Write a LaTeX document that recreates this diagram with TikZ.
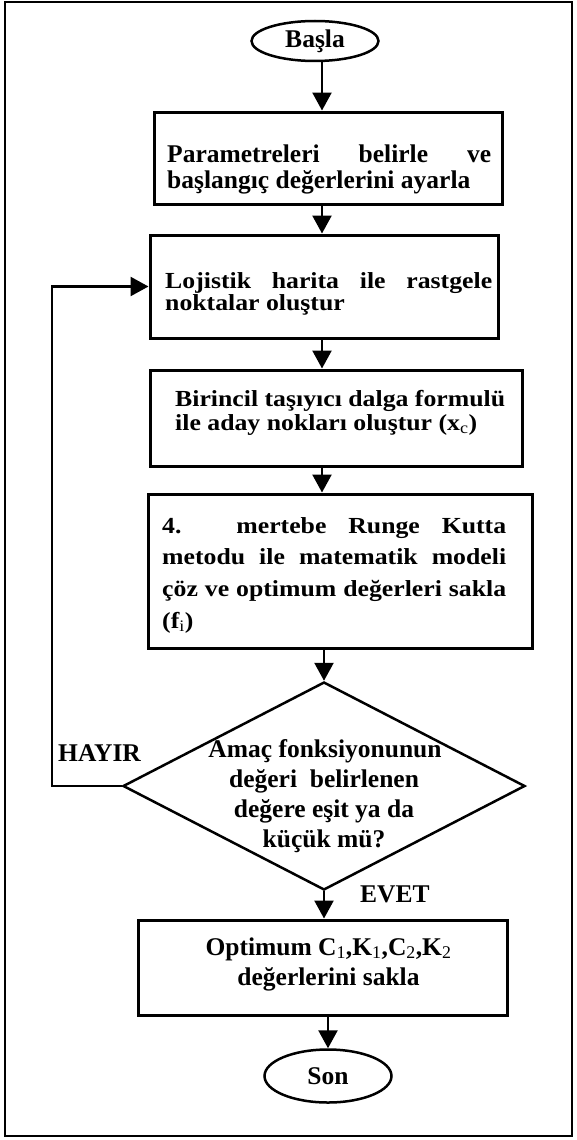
\documentclass[tikz,border=0pt]{standalone}
\usepackage{fontspec}
\setmainfont{Liberation Serif}
\newfontfamily\camfont{Liberation Serif}[FakeStretch=1.12]
\usetikzlibrary{arrows.meta,shapes.geometric}
\newcommand{\tnrtext}{\bfseries\fontsize{25.5}{27}\selectfont}
\newcommand{\camtext}{\camfont\bfseries\fontsize{23}{24}\selectfont}
\newcommand{\lsub}[1]{\textsubscript{\mdseries #1}}
\begin{document}
\begin{tikzpicture}[x=1pt,y=-1pt,
  boxnode/.style={draw, line width=3pt, inner sep=0pt},
  termnode/.style={draw, ellipse, line width=2.5pt, inner sep=0pt, font=\tnrtext},
  decnode/.style={draw, diamond, line width=2.5pt, inner sep=0pt},
  txt/.style={inner sep=0pt, font=\tnrtext},
  ctxt/.style={inner sep=0pt, font=\camtext},
  arr/.style={line width=2.5pt, -{Triangle[width=19pt,length=18pt]}}]
\useasboundingbox (0,0) rectangle (577,1140);
\draw[line width=2pt] (5,2.5) rectangle (572,1136);
\coordinate (col) at (322,0);
\coordinate (loopx) at (52,0);

\node[termnode, minimum width=127pt, minimum height=40pt] (start) at (315,41) {Başla};

\node[boxnode, minimum width=348pt, minimum height=92pt] (b1) at (328,158) {};
\node[txt, anchor=base west] (t1a) at (167,162) {\makebox[324pt][s]{Parametreleri belirle ve}};
\node[txt, anchor=base west] (t1b) at (167,188) {başlangıç değerlerini ayarla};

\node[boxnode, minimum width=348pt, minimum height=103pt] (b2) at (324,286.5) {};
\node[ctxt, anchor=base west] (t2a) at (165,288) {\makebox[327pt][s]{Lojistik harita ile rastgele}};
\node[ctxt, anchor=base west] (t2b) at (165,310) {noktalar oluştur};

\node[boxnode, minimum width=372pt, minimum height=96pt] (b3) at (336,418) {};
\node[ctxt, anchor=base west] (t3a) at (175,406) {Birincil taşıyıcı dalga formulü};
\node[ctxt, anchor=base west] (t3b) at (175,430) {ile aday nokları oluştur (x\lsub{c})};

\node[boxnode, minimum width=384pt, minimum height=154pt] (b4) at (340,571) {};
\node[ctxt, anchor=base west] (t4a) at (162,533) {\makebox[344pt][s]{4. mertebe Runge Kutta}};
\node[ctxt, anchor=base west] (t4b) at (162,564) {\makebox[344pt][s]{metodu ile matematik modeli}};
\node[ctxt, anchor=base west] (t4c) at (162,596) {\makebox[344pt][s]{çöz ve optimum değerleri sakla}};
\node[ctxt, anchor=base west] (t4d) at (162,628) {(f\lsub{i})};

\node[decnode, minimum width=402pt, minimum height=208pt] (dia) at (324,786) {};
\node[txt, anchor=base] (d1) at (325,757) {Amaç fonksiyonunun};
\node[txt, anchor=base] (d2) at (324,787) {değeri~ belirlenen};
\node[txt, anchor=base] (d3) at (324,817) {değere eşit ya da};
\node[txt, anchor=base] (d4) at (324,847) {küçük mü?};

\node[txt, anchor=base west] (hayir) at (58,761) {HAYIR};
\node[txt, anchor=base west] (evet) at (360,902) {EVET};

\node[boxnode, minimum width=369pt, minimum height=95pt] (b5) at (322.5,967.5) {};
\node[txt, anchor=base] (t5a) at (328.5,955) {Optimum C\lsub{1},K\lsub{1},C\lsub{2},K\lsub{2}};
\node[txt, anchor=base] (t5b) at (328.5,985) {değerlerini sakla};

\node[termnode, minimum width=127pt, minimum height=53pt] (end) at (328,1076) {Son};

\draw[arr] (start.south -| col) -- (b1.north -| col);
\draw[arr] (b1.south -| col) -- (b2.north -| col);
\draw[arr] (b2.south -| col) -- (b3.north -| col);
\draw[arr] (b3.south -| col) -- (b4.north -| col);
\draw[arr] (b4.south -| dia.north) -- (dia.north);
\draw[arr] (dia.south) -- (b5.north -| dia.south);
\draw[arr] (b5.south -| end.north) -- (end.north);
\draw[arr] (dia.west) -- (dia.west -| loopx) |- (b2.west);
\end{tikzpicture}
\end{document}
